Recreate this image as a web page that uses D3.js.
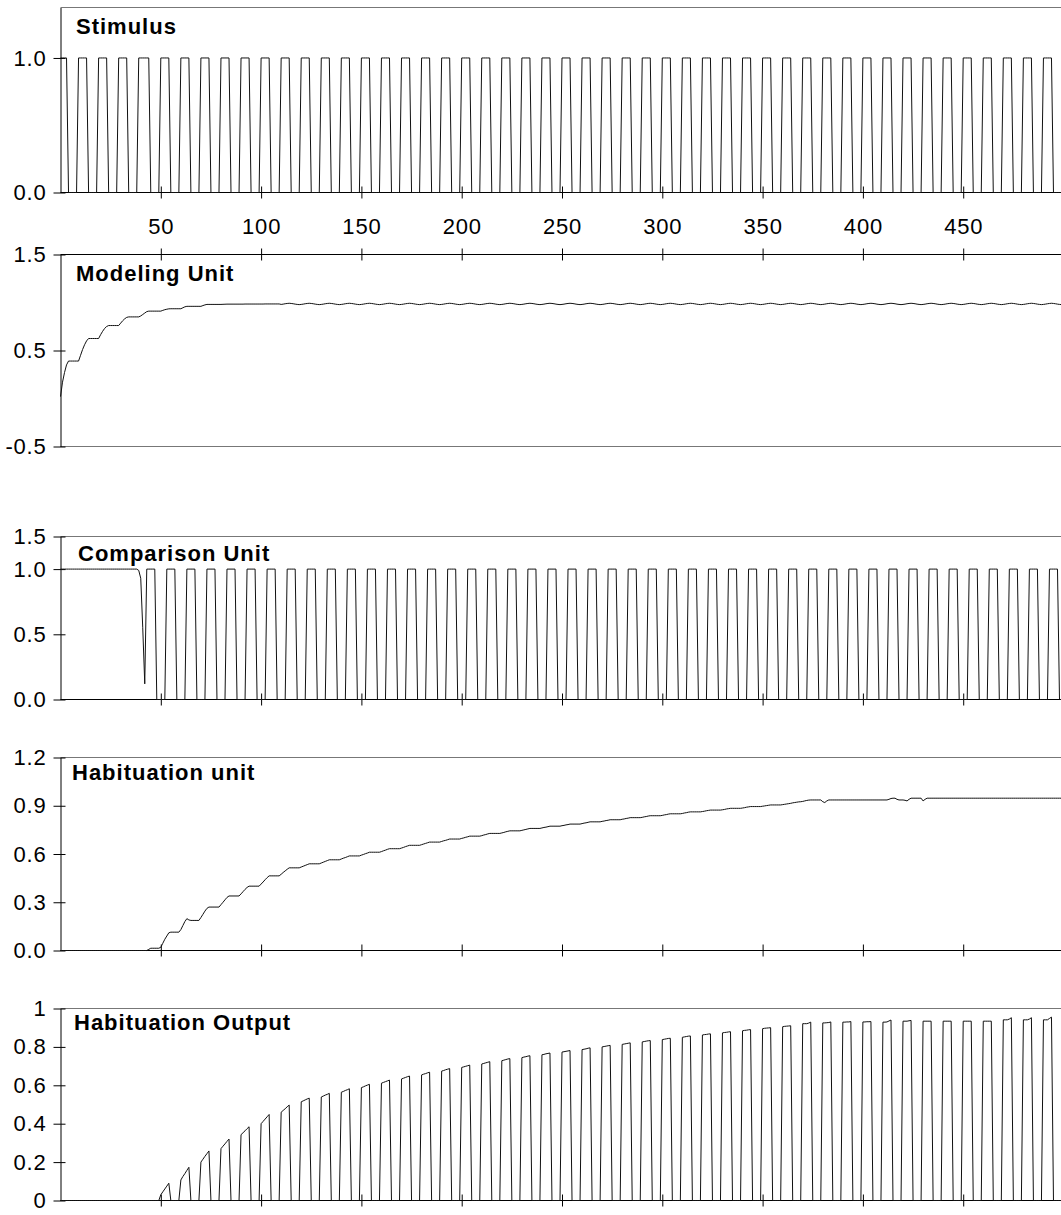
<!DOCTYPE html>
<html>
<head>
<meta charset="utf-8">
<script src="https://cdn.jsdelivr.net/npm/d3@7"></script>
<style>
body { margin: 0; background: #fff; }
svg { display: block; font-family: "Liberation Sans", Arial, sans-serif; }
</style>
</head>
<body>
<div id="container"></div>
<script>
// one value per time step, 500 steps
var stimulus = [
  1,1,1,1,0,0,0,0,0,1, 1,1,1,1,0,0,0,0,0,1, 1,1,1,1,0,0,0,0,0,1, 1,1,1,1,0,0,0,0,0,1, 1,1,1,1,1,0,0,0,0,0,
  1,1,1,1,1,0,0,0,0,0, 1,1,1,1,1,0,0,0,0,0, 1,1,1,1,1,0,0,0,0,0, 1,1,1,1,1,0,0,0,0,0, 1,1,1,1,1,0,0,0,0,0,
  1,1,1,1,1,0,0,0,0,0, 1,1,1,1,1,0,0,0,0,0, 1,1,1,1,1,0,0,0,0,0, 1,1,1,1,1,0,0,0,0,0, 1,1,1,1,1,0,0,0,0,0,
  1,1,1,1,1,0,0,0,0,0, 1,1,1,1,1,0,0,0,0,0, 1,1,1,1,1,0,0,0,0,0, 1,1,1,1,1,0,0,0,0,0, 1,1,1,1,1,0,0,0,0,0,
  1,1,1,1,1,0,0,0,0,0, 1,1,1,1,1,0,0,0,0,0, 1,1,1,1,1,0,0,0,0,0, 1,1,1,1,1,0,0,0,0,0, 1,1,1,1,1,0,0,0,0,0,
  1,1,1,1,1,0,0,0,0,0, 1,1,1,1,1,0,0,0,0,0, 1,1,1,1,1,0,0,0,0,0, 1,1,1,1,1,0,0,0,0,0, 1,1,1,1,1,0,0,0,0,0,
  1,1,1,1,1,0,0,0,0,0, 1,1,1,1,1,0,0,0,0,0, 1,1,1,1,1,0,0,0,0,0, 1,1,1,1,1,0,0,0,0,0, 1,1,1,1,1,0,0,0,0,0,
  1,1,1,1,1,0,0,0,0,0, 1,1,1,1,1,0,0,0,0,0, 1,1,1,1,1,0,0,0,0,0, 1,1,1,1,1,0,0,0,0,0, 1,1,1,1,1,0,0,0,0,0,
  1,1,1,1,1,0,0,0,0,0, 1,1,1,1,1,0,0,0,0,0, 1,1,1,1,1,0,0,0,0,0, 1,1,1,1,1,0,0,0,0,0, 1,1,1,1,1,0,0,0,0,0,
  1,1,1,1,1,0,0,0,0,0, 1,1,1,1,1,0,0,0,0,0, 1,1,1,1,1,0,0,0,0,0, 1,1,1,1,1,0,0,0,0,0, 1,1,1,1,1,0,0,0,0,0
];

var modeling = [
  0.02,0.17,0.27,0.35,0.39,0.39,0.39,0.39,0.39,0.39, 0.45,0.51,0.56,0.60,0.625,0.625,0.625,0.625,0.625,0.625,
  0.665,0.70,0.73,0.75,0.76,0.76,0.76,0.76,0.76,0.76, 0.785,0.81,0.83,0.845,0.85,0.85,0.85,0.85,0.85,0.85,
  0.86,0.875,0.89,0.905,0.91,0.91,0.91,0.91,0.91,0.91, 0.91,0.918,0.925,0.93,0.934,0.935,0.935,0.935,0.935,0.935,
  0.935,0.945,0.955,0.96,0.96,0.96,0.96,0.96,0.96,0.96, 0.96,0.968,0.975,0.98,0.98,0.98,0.98,0.98,0.98,0.98,
  0.98,0.981,0.982,0.983,0.983,0.983,0.983,0.983,0.983,0.983, 0.983,0.983,0.984,0.984,0.984,0.984,0.984,0.984,0.984,0.984,
  0.984,0.984,0.985,0.985,0.985,0.985,0.985,0.985,0.985,0.985, 0.98,0.983,0.987,0.99,0.992,0.99,0.987,0.983,0.98,0.978,
  0.98,0.983,0.987,0.99,0.992,0.99,0.987,0.983,0.98,0.978, 0.98,0.983,0.987,0.99,0.992,0.99,0.987,0.983,0.98,0.978,
  0.98,0.983,0.987,0.99,0.992,0.99,0.987,0.983,0.98,0.978, 0.98,0.983,0.987,0.99,0.992,0.99,0.987,0.983,0.98,0.978,
  0.98,0.983,0.987,0.99,0.992,0.99,0.987,0.983,0.98,0.978, 0.98,0.983,0.987,0.99,0.992,0.99,0.987,0.983,0.98,0.978,
  0.98,0.983,0.987,0.99,0.992,0.99,0.987,0.983,0.98,0.978, 0.98,0.983,0.987,0.99,0.992,0.99,0.987,0.983,0.98,0.978,
  0.98,0.983,0.987,0.99,0.992,0.99,0.987,0.983,0.98,0.978, 0.98,0.983,0.987,0.99,0.992,0.99,0.987,0.983,0.98,0.978,
  0.98,0.983,0.987,0.99,0.992,0.99,0.987,0.983,0.98,0.978, 0.98,0.983,0.987,0.99,0.992,0.99,0.987,0.983,0.98,0.978,
  0.98,0.983,0.987,0.99,0.992,0.99,0.987,0.983,0.98,0.978, 0.98,0.983,0.987,0.99,0.992,0.99,0.987,0.983,0.98,0.978,
  0.98,0.983,0.987,0.99,0.992,0.99,0.987,0.983,0.98,0.978, 0.98,0.983,0.987,0.99,0.992,0.99,0.987,0.983,0.98,0.978,
  0.98,0.983,0.987,0.99,0.992,0.99,0.987,0.983,0.98,0.978, 0.98,0.983,0.987,0.99,0.992,0.99,0.987,0.983,0.98,0.978,
  0.98,0.983,0.987,0.99,0.992,0.99,0.987,0.983,0.98,0.978, 0.98,0.983,0.987,0.99,0.992,0.99,0.987,0.983,0.98,0.978,
  0.98,0.983,0.987,0.99,0.992,0.99,0.987,0.983,0.98,0.978, 0.98,0.983,0.987,0.99,0.992,0.99,0.987,0.983,0.98,0.978,
  0.98,0.983,0.987,0.99,0.992,0.99,0.987,0.983,0.98,0.978, 0.98,0.983,0.987,0.99,0.992,0.99,0.987,0.983,0.98,0.978,
  0.98,0.983,0.987,0.99,0.992,0.99,0.987,0.983,0.98,0.978, 0.98,0.983,0.987,0.99,0.992,0.99,0.987,0.983,0.98,0.978,
  0.98,0.983,0.987,0.99,0.992,0.99,0.987,0.983,0.98,0.978, 0.98,0.983,0.987,0.99,0.992,0.99,0.987,0.983,0.98,0.978,
  0.98,0.983,0.987,0.99,0.992,0.99,0.987,0.983,0.98,0.978, 0.98,0.983,0.987,0.99,0.992,0.99,0.987,0.983,0.98,0.978,
  0.98,0.983,0.987,0.99,0.992,0.99,0.987,0.983,0.98,0.978, 0.98,0.983,0.987,0.99,0.992,0.99,0.987,0.983,0.98,0.978,
  0.98,0.983,0.987,0.99,0.992,0.99,0.987,0.983,0.98,0.978, 0.98,0.983,0.987,0.99,0.992,0.99,0.987,0.983,0.98,0.978,
  0.98,0.983,0.987,0.99,0.992,0.99,0.987,0.983,0.98,0.978, 0.98,0.983,0.987,0.99,0.992,0.99,0.987,0.983,0.98,0.978,
  0.98,0.983,0.987,0.99,0.992,0.99,0.987,0.983,0.98,0.978, 0.98,0.983,0.987,0.99,0.992,0.99,0.987,0.983,0.98,0.978
];

var comparison = [
  1,1,1,1,1,1,1,1,1,1, 1,1,1,1,1,1,1,1,1,1, 1,1,1,1,1,1,1,1,1,1, 1,1,1,1,1,1,1,1,1,0.99, 0.93,0.55,0.12,1,1,1,1,1,0,0,
  0,0,0,1,1,1,1,1,0,0, 0,0,0,1,1,1,1,1,0,0, 0,0,0,1,1,1,1,1,0,0, 0,0,0,1,1,1,1,1,0,0, 0,0,0,1,1,1,1,1,0,0,
  0,0,0,1,1,1,1,1,0,0, 0,0,0,1,1,1,1,1,0,0, 0,0,0,1,1,1,1,1,0,0, 0,0,0,1,1,1,1,1,0,0, 0,0,0,1,1,1,1,1,0,0,
  0,0,0,1,1,1,1,1,0,0, 0,0,0,1,1,1,1,1,0,0, 0,0,0,1,1,1,1,1,0,0, 0,0,0,1,1,1,1,1,0,0, 0,0,0,1,1,1,1,1,0,0,
  0,0,0,1,1,1,1,1,0,0, 0,0,0,1,1,1,1,1,0,0, 0,0,0,1,1,1,1,1,0,0, 0,0,0,1,1,1,1,1,0,0, 0,0,0,1,1,1,1,1,0,0,
  0,0,0,1,1,1,1,1,0,0, 0,0,0,1,1,1,1,1,0,0, 0,0,0,1,1,1,1,1,0,0, 0,0,0,1,1,1,1,1,0,0, 0,0,0,1,1,1,1,1,0,0,
  0,0,0,1,1,1,1,1,0,0, 0,0,0,1,1,1,1,1,0,0, 0,0,0,1,1,1,1,1,0,0, 0,0,0,1,1,1,1,1,0,0, 0,0,0,1,1,1,1,1,0,0,
  0,0,0,1,1,1,1,1,0,0, 0,0,0,1,1,1,1,1,0,0, 0,0,0,1,1,1,1,1,0,0, 0,0,0,1,1,1,1,1,0,0, 0,0,0,1,1,1,1,1,0,0,
  0,0,0,1,1,1,1,1,0,0, 0,0,0,1,1,1,1,1,0,0, 0,0,0,1,1,1,1,1,0,0, 0,0,0,1,1,1,1,1,0,0, 0,0,0,1,1,1,1,1,0,0,
  0,0,0,1,1,1,1,1,0,0, 0,0,0,1,1,1,1,1,0,0, 0,0,0,1,1,1,1,1,0,0, 0,0,0,1,1,1,1,1,0,0, 0,0,0,1,1,1,1,1,0,0
];

var habituation = [
  0,0,0,0,0,0,0,0,0,0, 0,0,0,0,0,0,0,0,0,0,
  0,0,0,0,0,0,0,0,0,0, 0,0,0,0,0,0,0,0,0,0,
  0,0,0,0,0.007,0.014,0.014,0.014,0.014,0.014, 0.02,0.045,0.07,0.09,0.11,0.114,0.114,0.114,0.114,0.114,
  0.13,0.155,0.18,0.198,0.19,0.187,0.187,0.187,0.187,0.187, 0.205,0.225,0.245,0.262,0.27,0.27,0.27,0.27,0.27,0.27,
  0.285,0.30,0.315,0.33,0.339,0.339,0.339,0.339,0.339,0.339, 0.352,0.366,0.38,0.392,0.40,0.40,0.40,0.40,0.40,0.40,
  0.413,0.426,0.44,0.453,0.464,0.464,0.464,0.464,0.464,0.464, 0.474,0.485,0.495,0.505,0.514,0.514,0.514,0.514,0.514,0.514,
  0.519,0.524,0.529,0.534,0.539,0.539,0.539,0.539,0.539,0.539, 0.544,0.549,0.554,0.559,0.564,0.564,0.564,0.564,0.564,0.564,
  0.569,0.574,0.578,0.583,0.588,0.588,0.588,0.588,0.588,0.588, 0.593,0.597,0.602,0.606,0.611,0.611,0.611,0.611,0.611,0.611,
  0.615,0.62,0.624,0.629,0.633,0.633,0.633,0.633,0.633,0.633, 0.637,0.641,0.646,0.65,0.654,0.654,0.654,0.654,0.654,0.654,
  0.658,0.662,0.666,0.67,0.674,0.674,0.674,0.674,0.674,0.674, 0.678,0.682,0.685,0.689,0.693,0.693,0.693,0.693,0.693,0.693,
  0.697,0.70,0.704,0.707,0.711,0.711,0.711,0.711,0.711,0.711, 0.714,0.718,0.721,0.725,0.728,0.728,0.728,0.728,0.728,0.728,
  0.731,0.734,0.738,0.741,0.744,0.744,0.744,0.744,0.744,0.744, 0.747,0.75,0.753,0.756,0.759,0.759,0.759,0.759,0.759,0.759,
  0.762,0.765,0.767,0.77,0.773,0.773,0.773,0.773,0.773,0.773, 0.776,0.778,0.781,0.783,0.786,0.786,0.786,0.786,0.786,0.786,
  0.789,0.792,0.794,0.797,0.80,0.80,0.80,0.80,0.80,0.80, 0.803,0.805,0.808,0.81,0.813,0.813,0.813,0.813,0.813,0.813,
  0.816,0.818,0.821,0.823,0.826,0.826,0.826,0.826,0.826,0.826, 0.828,0.831,0.833,0.836,0.838,0.838,0.838,0.838,0.838,0.838,
  0.84,0.843,0.845,0.848,0.85,0.85,0.85,0.85,0.85,0.85, 0.852,0.855,0.857,0.86,0.862,0.862,0.862,0.862,0.862,0.862,
  0.864,0.866,0.869,0.871,0.873,0.873,0.873,0.873,0.873,0.873, 0.875,0.877,0.88,0.882,0.884,0.884,0.884,0.884,0.884,0.884,
  0.886,0.888,0.891,0.893,0.895,0.895,0.895,0.895,0.895,0.895, 0.897,0.899,0.901,0.903,0.905,0.905,0.905,0.905,0.905,0.905,
  0.907,0.909,0.911,0.913,0.915,0.918,0.92,0.922,0.924,0.925, 0.927,0.93,0.933,0.935,0.936,0.936,0.936,0.936,0.936,0.936,
  0.925,0.92,0.93,0.936,0.936,0.936,0.936,0.936,0.936,0.936, 0.936,0.936,0.936,0.936,0.936,0.936,0.936,0.936,0.936,0.936,
  0.936,0.936,0.936,0.936,0.936,0.936,0.936,0.936,0.936,0.936, 0.936,0.936,0.936,0.94,0.945,0.947,0.947,0.94,0.936,0.936,
  0.936,0.934,0.93,0.94,0.947,0.947,0.947,0.947,0.947,0.947, 0.93,0.94,0.947,0.947,0.947,0.947,0.947,0.947,0.947,0.947,
  0.947,0.947,0.947,0.947,0.947,0.947,0.947,0.947,0.947,0.947, 0.947,0.947,0.947,0.947,0.947,0.947,0.947,0.947,0.947,0.947,
  0.947,0.947,0.947,0.947,0.947,0.947,0.947,0.947,0.947,0.947, 0.947,0.947,0.947,0.947,0.947,0.947,0.947,0.947,0.947,0.947,
  0.947,0.947,0.947,0.947,0.947,0.947,0.947,0.947,0.947,0.947, 0.947,0.947,0.947,0.947,0.947,0.947,0.947,0.947,0.947,0.947
];

var output = [
  0,0,0,0,0,0,0,0,0,0, 0,0,0,0,0,0,0,0,0,0,
  0,0,0,0,0,0,0,0,0,0, 0,0,0,0,0,0,0,0,0,0,
  0,0,0,0,0,0,0,0,0,0, 0.03,0.045,0.06,0.075,0.09,0,0,0,0,0,
  0.107,0.125,0.14,0.157,0.173,0,0,0,0,0, 0.2,0.215,0.23,0.244,0.258,0,0,0,0,0,
  0.27,0.283,0.295,0.308,0.32,0,0,0,0,0, 0.343,0.353,0.363,0.374,0.384,0,0,0,0,0,
  0.4,0.412,0.424,0.436,0.448,0,0,0,0,0, 0.46,0.469,0.478,0.488,0.497,0,0,0,0,0,
  0.514,0.519,0.524,0.529,0.533,0,0,0,0,0, 0.539,0.544,0.549,0.553,0.558,0,0,0,0,0,
  0.564,0.568,0.573,0.577,0.582,0,0,0,0,0, 0.588,0.592,0.597,0.601,0.605,0,0,0,0,0,
  0.611,0.615,0.619,0.623,0.627,0,0,0,0,0, 0.633,0.637,0.641,0.645,0.648,0,0,0,0,0,
  0.654,0.658,0.661,0.665,0.668,0,0,0,0,0, 0.674,0.677,0.681,0.684,0.687,0,0,0,0,0,
  0.693,0.696,0.699,0.702,0.705,0,0,0,0,0, 0.711,0.714,0.717,0.72,0.723,0,0,0,0,0,
  0.728,0.731,0.734,0.737,0.739,0,0,0,0,0, 0.744,0.747,0.749,0.752,0.754,0,0,0,0,0,
  0.759,0.761,0.764,0.766,0.768,0,0,0,0,0, 0.773,0.775,0.777,0.779,0.781,0,0,0,0,0,
  0.786,0.788,0.79,0.793,0.795,0,0,0,0,0, 0.80,0.802,0.804,0.806,0.808,0,0,0,0,0,
  0.813,0.815,0.817,0.819,0.821,0,0,0,0,0, 0.826,0.828,0.83,0.832,0.833,0,0,0,0,0,
  0.838,0.84,0.842,0.844,0.845,0,0,0,0,0, 0.85,0.852,0.854,0.856,0.857,0,0,0,0,0,
  0.862,0.864,0.865,0.867,0.868,0,0,0,0,0, 0.873,0.875,0.876,0.878,0.879,0,0,0,0,0,
  0.884,0.886,0.887,0.889,0.89,0,0,0,0,0, 0.895,0.897,0.898,0.899,0.90,0,0,0,0,0,
  0.905,0.907,0.908,0.909,0.91,0,0,0,0,0, 0.921,0.921,0.921,0.924,0.929,0,0,0,0,0,
  0.925,0.925,0.926,0.927,0.93,0,0,0,0,0, 0.929,0.929,0.93,0.93,0.932,0,0,0,0,0,
  0.93,0.93,0.931,0.931,0.932,0,0,0,0,0, 0.929,0.929,0.93,0.935,0.94,0,0,0,0,0,
  0.934,0.934,0.934,0.936,0.938,0,0,0,0,0, 0.934,0.934,0.934,0.934,0.934,0,0,0,0,0,
  0.934,0.934,0.934,0.934,0.934,0,0,0,0,0, 0.934,0.934,0.934,0.934,0.934,0,0,0,0,0,
  0.934,0.934,0.934,0.934,0.934,0,0,0,0,0, 0.941,0.941,0.941,0.945,0.952,0,0,0,0,0,
  0.941,0.941,0.941,0.945,0.952,0,0,0,0,0, 0.941,0.941,0.941,0.948,0.955,0,0,0,0,0
];

var xTicks = [50, 100, 150, 200, 250, 300, 350, 400, 450];
var stimTicks = [0, 1];
var stimTickLabels = ["0.0", "1.0"];
var modelTicks = [-0.5, 0.5, 1.5];
var modelTickLabels = ["-0.5", "0.5", "1.5"];
var compTicks = [0, 0.5, 1, 1.25];
var compTickLabels = ["0.0", "0.5", "1.0", "1.5"];
var habTicks = [0, 0.3, 0.6, 0.9, 1.2];
var habTickLabels = ["0.0", "0.3", "0.6", "0.9", "1.2"];
var outTicks = [0, 0.2, 0.4, 0.6, 0.8, 1];
var outTickLabels = ["0", "0.2", "0.4", "0.6", "0.8", "1"];

var width = 1061;
var height = 1215;
var left = 60.5;

var x = d3.scaleLinear().domain([0, 499]).range([left, 1061.5]);

// layout of each panel (pixel rows)
var panels = [
    {title: "Stimulus", values: stimulus, domain: [0, 1.375], range: [192.5, 7.5],
     ticks: stimTicks, labels: stimTickLabels, axisAt: "bottom", xLabels: true, tx: 76, ty: 34},
    {title: "Modeling Unit", values: modeling, domain: [-0.5, 1.5], range: [446.5, 254.5],
     ticks: modelTicks, labels: modelTickLabels, axisAt: "top", xLabels: false, tx: 76, ty: 281},
    {title: "Comparison Unit", values: comparison, domain: [0, 1.25], range: [699.5, 536.5],
     ticks: compTicks, labels: compTickLabels, axisAt: "bottom", xLabels: false, tx: 78, ty: 561},
    {title: "Habituation unit", values: habituation, domain: [0, 1.2], range: [950.5, 757.5],
     ticks: habTicks, labels: habTickLabels, axisAt: "bottom", xLabels: false, tx: 72, ty: 780},
    {title: "Habituation Output", values: output, domain: [0, 1], range: [1200.5, 1008.5],
     ticks: outTicks, labels: outTickLabels, axisAt: "bottom", xLabels: false, tx: 74, ty: 1030}
];

var svg = d3.select("#container").append("svg")
    .attr("width", width)
    .attr("height", height);

function styleLabels(sel) {
    sel.attr("font-size", 22)
        .attr("letter-spacing", "0.8px")
        .attr("font-family", "Liberation Sans, Arial, sans-serif")
        .attr("fill", "#000");
}

panels.forEach(function(p) {
    var y = d3.scaleLinear().domain(p.domain).range(p.range);
    var g = svg.append("g");
    var yBottom = p.range[0], yTop = p.range[1];

    // plot frame: the edge without the axis is a grey border
    var borderY = p.axisAt == "bottom" ? yTop : yBottom;
    g.append("line")
        .attr("x1", left).attr("x2", width)
        .attr("y1", borderY).attr("y2", borderY)
        .attr("stroke", "#777").attr("stroke-width", 1);

    // y axis
    var yAxis = d3.axisLeft(y)
        .tickValues(p.ticks)
        .tickFormat(function(d, i) { return p.labels[i]; })
        .tickSizeInner(7)
        .tickSizeOuter(0)
        .tickPadding(7);
    var ya = g.append("g")
        .attr("transform", "translate(" + left + ",0)")
        .call(yAxis);
    ya.selectAll(".tick line").attr("x1", 5);
    styleLabels(ya.selectAll("text"));
    ya.select(".domain").attr("stroke", "#000");

    // x axis with ticks crossing the line
    var axisY = p.axisAt == "bottom" ? yBottom : yTop;
    var xAxis = d3.axisBottom(x)
        .tickValues(xTicks)
        .tickSizeInner(6)
        .tickSizeOuter(0)
        .tickPadding(20)
        .tickFormat(p.xLabels ? d3.format("d") : function() { return ""; });
    var xa = g.append("g")
        .attr("transform", "translate(0," + axisY + ")")
        .call(xAxis);
    xa.select(".domain").attr("d", "M" + left + ",0H" + (width + 1));
    xa.selectAll(".tick line").attr("y1", -6);
    styleLabels(xa.selectAll("text"));

    // series
    var line = d3.line()
        .x(function(d, i) { return x(i); })
        .y(function(d) { return y(d); });
    g.append("path")
        .datum(p.values)
        .attr("fill", "none")
        .attr("stroke", "#111")
        .attr("stroke-width", 1)
        .attr("stroke-linejoin", "round")
        .attr("d", line);

    g.append("text")
        .attr("x", p.tx)
        .attr("y", p.ty)
        .attr("font-size", 22)
        .attr("font-weight", "bold")
        .attr("letter-spacing", "1px")
        .text(p.title);
});
</script>
</body>
</html>
